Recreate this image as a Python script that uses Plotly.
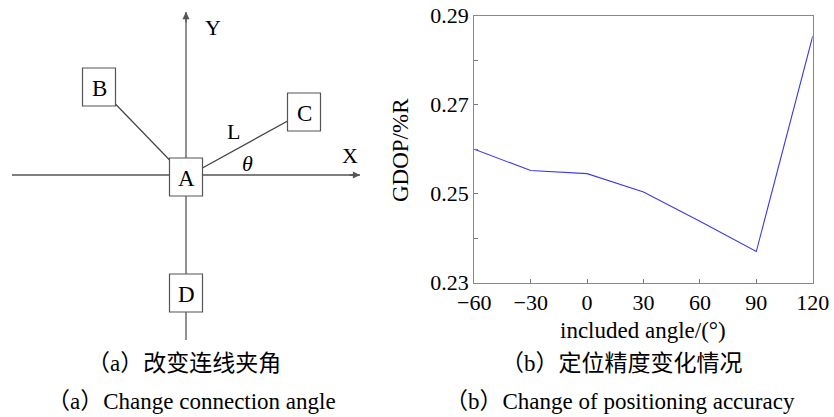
import plotly.graph_objects as go

# ---- data: panel (b) ----
angles = [-60, -30, 0, 30, 60, 90, 120]
gdop = [0.2600, 0.2552, 0.2545, 0.2504, 0.2438, 0.2370, 0.2854]
x_ticks = [-60, -30, 0, 30, 60, 90, 120]
y_ticks = [0.23, 0.25, 0.27, 0.29]

# ---- data: panel (a) diagram (pixel-like diagram units) ----
node_names = ["A", "B", "C", "D"]
node_x = [186, 99, 304, 186]
node_y = [177, 87, 112, 293]
links = [("B", "A"), ("A", "C")]
box_w, box_h = 33, 38
x_axis_line = [(12, 175), (360, 175)]
y_axis_line = [(186, 340), (186, 12)]

captions_cn = ["（a）改变连线夹角", "（b）定位精度变化情况"]
captions_en = ["（a）Change connection angle", "（b）Change of positioning accuracy"]

W, H = 834, 417
SERIF = "Liberation Serif, Times New Roman, serif"
CJK = "Liberation Serif, Noto Sans CJK SC, serif"
GRAY = "#555555"

fig = go.Figure()

# line chart
fig.add_trace(go.Scatter(x=angles, y=gdop, mode="lines",
                         line=dict(color="#3b3be6", width=1.1),
                         xaxis="x", yaxis="y", showlegend=False, hoverinfo="skip"))

# invisible trace for diagram axes
fig.add_trace(go.Scatter(x=node_x, y=node_y, mode="markers",
                         marker=dict(opacity=0), xaxis="x2", yaxis="y2",
                         showlegend=False, hoverinfo="skip"))

shapes = []
for (xa, ya), (xb, yb) in [x_axis_line, y_axis_line]:
    shapes.append(dict(type="line", xref="x2", yref="y2", x0=xa, y0=ya, x1=xb, y1=yb,
                       line=dict(color=GRAY, width=1.3), layer="above"))
pos = {n: (x, y) for n, x, y in zip(node_names, node_x, node_y)}
for a, b in links:
    shapes.append(dict(type="line", xref="x2", yref="y2",
                       x0=pos[a][0], y0=pos[a][1], x1=pos[b][0], y1=pos[b][1],
                       line=dict(color="#444444", width=1.2), layer="above"))
for n in node_names:
    x, y = pos[n]
    shapes.append(dict(type="rect", xref="x2", yref="y2",
                       x0=x - box_w / 2, x1=x + box_w / 2,
                       y0=y - box_h / 2, y1=y + box_h / 2,
                       fillcolor="white", line=dict(color=GRAY, width=1.2), layer="above"))

annotations = []
# arrowheads of the diagram axes
(xa, ya), (xb, yb) = x_axis_line
annotations.append(dict(x=xb, y=yb, ax=xb - 12, ay=yb, xref="x2", yref="y2",
                        axref="x2", ayref="y2", showarrow=True, arrowhead=2,
                        arrowsize=1.1, arrowwidth=1.3, arrowcolor=GRAY, text=""))
(xa, ya), (xb, yb) = y_axis_line
annotations.append(dict(x=xb, y=yb, ax=xb, ay=yb + 12, xref="x2", yref="y2",
                        axref="x2", ayref="y2", showarrow=True, arrowhead=2,
                        arrowsize=1.1, arrowwidth=1.3, arrowcolor=GRAY, text=""))
for n in node_names:
    x, y = pos[n]
    annotations.append(dict(x=x, y=y + 1, xref="x2", yref="y2", text=n, showarrow=False,
                            xanchor="center", yanchor="middle",
                            font=dict(family=SERIF, size=23, color="black")))
for txt, x, y in [("Y", 213, 27), ("X", 350, 155), ("L", 233, 131), ("<i>θ</i>", 247, 163)]:
    annotations.append(dict(x=x, y=y, xref="x2", yref="y2", text=txt, showarrow=False,
                            xanchor="center", yanchor="middle",
                            font=dict(family=SERIF, size=22, color="black")))

# axis titles for panel (b)
annotations.append(dict(x=400 / W, y=1 - 150 / H, xref="paper", yref="paper",
                        text="GDOP/%R", textangle=-90, showarrow=False,
                        xanchor="center", yanchor="middle",
                        font=dict(family=SERIF, size=23, color="black")))
annotations.append(dict(x=643 / W, y=1 - 330 / H, xref="paper", yref="paper",
                        text="included angle/(°)", showarrow=False,
                        xanchor="center", yanchor="middle",
                        font=dict(family=SERIF, size=23, color="black")))

# captions
for txt, cx in zip(captions_cn, [184, 622]):
    annotations.append(dict(x=cx / W, y=1 - 363 / H, xref="paper", yref="paper",
                            text=txt, showarrow=False, xanchor="center", yanchor="middle",
                            font=dict(family=CJK, size=23, color="black")))
for txt, cx in zip(captions_en, [191, 620]):
    annotations.append(dict(x=cx / W, y=1 - 401 / H, xref="paper", yref="paper",
                            text=txt, showarrow=False, xanchor="center", yanchor="middle",
                            font=dict(family=CJK, size=23, color="black")))

x0, x1 = 474.3 / W, 812.7 / W
y0, y1 = 1 - 282.7 / H, 1 - 15.7 / H

fig.update_layout(
    width=W, height=H, margin=dict(l=0, r=0, t=0, b=0),
    paper_bgcolor="white", plot_bgcolor="white",
    shapes=shapes, annotations=annotations,
    xaxis=dict(domain=[x0, x1], range=[-60, 120], tickvals=x_ticks,
               ticks="inside", ticklen=4, tickcolor="#777777",
               showline=True, linecolor="#888888", linewidth=1.2, mirror=True,
               showgrid=False, zeroline=False, automargin=False,
               tickfont=dict(family=SERIF, size=22, color="black")),
    yaxis=dict(domain=[y0, y1], range=[0.23, 0.29], tickvals=y_ticks,
               tickformat=".2f",
               ticks="inside", ticklen=4, tickcolor="#777777",
               minor=dict(dtick=0.01, tick0=0.23, ticks="inside", ticklen=4, tickcolor="#777777"),
               showline=True, linecolor="#888888", linewidth=1.2, mirror=True,
               showgrid=False, zeroline=False, automargin=False,
               tickfont=dict(family=SERIF, size=22, color="black")),
    xaxis2=dict(domain=[0, 400 / W], range=[0, 400], visible=False, fixedrange=True),
    yaxis2=dict(domain=[0, 1], range=[H, 0], visible=False, fixedrange=True),
)

fig.write_html("out.html")
